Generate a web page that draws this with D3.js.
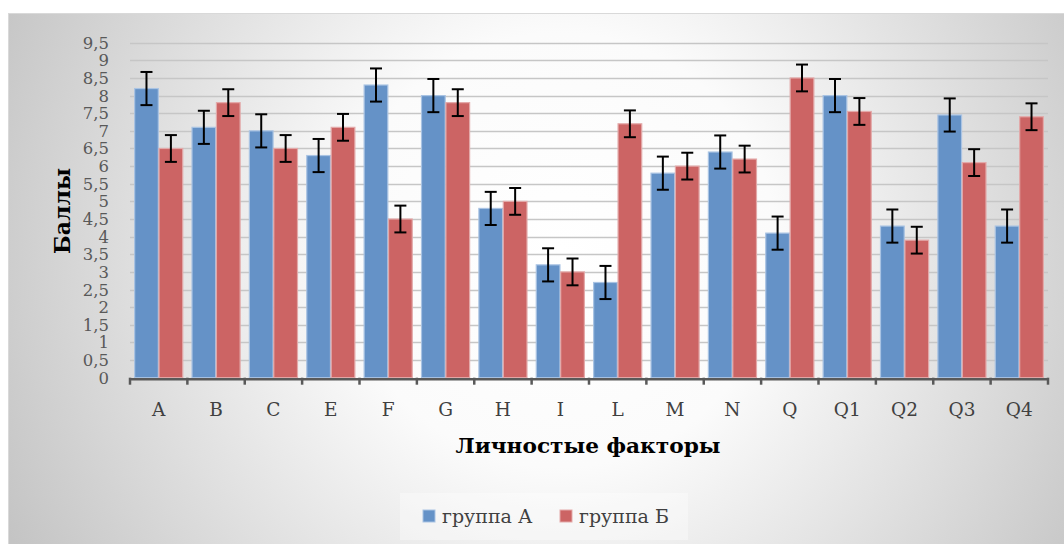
<!DOCTYPE html>
<html>
<head>
<meta charset="utf-8">
<script src="https://cdn.jsdelivr.net/npm/d3@7/dist/d3.min.js"></script>
<style>
  html, body { margin: 0; padding: 0; background: #ffffff; }
  svg { display: block; }
  .serif { font-family: "DejaVu Serif", "Liberation Serif", serif; }
</style>
</head>
<body>
<svg id="chart" width="1064" height="544"></svg>
<script>
// ── Data ─────────────────────────────────────────────────────────────────────
const factors   = ['A','B','C','E','F','G','H','I','L','M','N','Q','Q1','Q2','Q3','Q4'];
const groupA    = [8.2, 7.1, 7.0, 6.3, 8.3, 8.0, 4.8, 3.2, 2.7, 5.8, 6.4, 4.1, 8.0, 4.3, 7.45, 4.3];
const groupB    = [6.5, 7.8, 6.5, 7.1, 4.5, 7.8, 5.0, 3.0, 7.2, 6.0, 6.2, 8.5, 7.55, 3.9, 6.1, 7.4];
const errA      = [0.47, 0.47, 0.47, 0.47, 0.47, 0.47, 0.47, 0.47, 0.47, 0.47, 0.47, 0.47, 0.47, 0.47, 0.47, 0.47];
const errB      = [0.38, 0.38, 0.38, 0.38, 0.38, 0.38, 0.38, 0.38, 0.38, 0.38, 0.38, 0.38, 0.38, 0.38, 0.38, 0.38];
const seriesNames = ['группа А', 'группа Б'];
const yTicks    = [0,0.5,1,1.5,2,2.5,3,3.5,4,4.5,5,5.5,6,6.5,7,7.5,8,8.5,9,9.5];
const refLevel  = 5.56;

// ── Layout ───────────────────────────────────────────────────────────────────
const W = 1064, H = 544;
const plot = { left: 130, right: 1048, top: 42.7, bottom: 377.7 };
const COLORS = ['#6592c7', '#cc6464'];
const STROKES = ['#a9c3e3', '#e3a9a9'];

const svg = d3.select('#chart');
const defs = svg.append('defs');

const bg = defs.append('radialGradient')
  .attr('id', 'bgGrad').attr('gradientUnits', 'userSpaceOnUse')
  .attr('cx', 560).attr('cy', 250).attr('r', 620);
bg.append('stop').attr('offset', '0%').attr('stop-color', '#ffffff');
bg.append('stop').attr('offset', '35%').attr('stop-color', '#fbfbfb');
bg.append('stop').attr('offset', '100%').attr('stop-color', '#c4c4c4');

const sh = defs.append('filter').attr('id', 'lineShadow')
  .attr('x', '-5%').attr('y', '-200%').attr('width', '110%').attr('height', '500%');
sh.append('feDropShadow').attr('dx', 0).attr('dy', 3).attr('stdDeviation', 2.5)
  .attr('flood-color', '#000').attr('flood-opacity', 0.35);

// background panel
svg.append('rect').attr('x', 0).attr('y', 0).attr('width', W).attr('height', H).attr('fill', '#ffffff');
svg.append('rect').attr('x', 8.5).attr('y', 13.5).attr('width', W).attr('height', H)
  .attr('fill', 'url(#bgGrad)').attr('stroke', '#d9d9d9');

// ── Scales ───────────────────────────────────────────────────────────────────
const x = d3.scaleBand().domain(factors).range([plot.left, plot.right]).paddingInner(0).paddingOuter(0);
const y = d3.scaleLinear().domain([0, 9.5]).range([plot.bottom, plot.top]);
const sub = d3.scaleBand().domain([0, 1]).range([0, x.bandwidth()]).paddingInner(0.03).paddingOuter(0.19);

// gridlines
svg.append('g').selectAll('line').data(yTicks.filter(t => t > 0)).join('line')
  .attr('x1', plot.left).attr('x2', plot.right)
  .attr('y1', d => Math.round(y(d)) + 0.5).attr('y2', d => Math.round(y(d)) + 0.5)
  .attr('stroke', '#c6c6c6').attr('stroke-width', 1.5);

// y tick labels
svg.append('g').attr('class', 'serif').selectAll('text').data(yTicks).join('text')
  .attr('x', 109).attr('y', d => y(d) + 6)
  .attr('text-anchor', 'end').attr('font-size', 16.5).attr('fill', '#595959')
  .text(d => String(d).replace('.', ','));

// bars
const rows = factors.map((f, i) => ({ f, vals: [groupA[i], groupB[i]], errs: [errA[i], errB[i]] }));
const cat = svg.append('g').selectAll('g').data(rows).join('g')
  .attr('transform', d => `translate(${x(d.f)},0)`);

cat.selectAll('rect').data(d => d.vals.map((v, s) => ({ v, s }))).join('rect')
  .attr('x', d => sub(d.s)).attr('width', sub.bandwidth())
  .attr('y', d => y(d.v)).attr('height', d => y(0) - y(d.v))
  .attr('fill', d => COLORS[d.s]).attr('stroke', d => STROKES[d.s]).attr('stroke-width', 1.2);

// reference line
svg.append('line')
  .attr('x1', plot.left + 4).attr('x2', plot.right)
  .attr('y1', y(refLevel)).attr('y2', y(refLevel))
  .attr('stroke', '#c0504d').attr('stroke-width', 8)
  .attr('filter', 'url(#lineShadow)');

// error bars
const eb = cat.selectAll('g.err').data(d => d.vals.map((v, s) => ({ v, s, e: d.errs[s] }))).join('g')
  .attr('class', 'err')
  .attr('transform', d => `translate(${sub(d.s) + sub.bandwidth() / 2},0)`);
eb.append('line').attr('x1', 0).attr('x2', 0)
  .attr('y1', d => y(d.v + d.e)).attr('y2', d => y(d.v - d.e))
  .attr('stroke', '#000').attr('stroke-width', 2);
eb.selectAll('line.cap').data(d => [d.v + d.e, d.v - d.e]).join('line').attr('class', 'cap')
  .attr('x1', -6).attr('x2', 6).attr('y1', d => y(d)).attr('y2', d => y(d))
  .attr('stroke', '#000').attr('stroke-width', 2);

// x axis
const xAxis = svg.append('g').attr('transform', `translate(0,${plot.bottom + 1})`)
  .call(d3.axisBottom(x).tickSize(0).tickFormat(''));
xAxis.select('.domain').attr('stroke', '#595959').attr('stroke-width', 2.5);
svg.append('g').selectAll('line')
  .data(factors.map(f => x(f)).concat([plot.right])).join('line')
  .attr('x1', d => d).attr('x2', d => d)
  .attr('y1', plot.bottom).attr('y2', plot.bottom + 7)
  .attr('stroke', '#595959').attr('stroke-width', 2.5);

svg.append('g').attr('class', 'serif').selectAll('text').data(factors).join('text')
  .attr('x', d => x(d) + x.bandwidth() / 2).attr('y', 416)
  .attr('text-anchor', 'middle').attr('font-size', 18.5).attr('fill', '#404040')
  .text(d => d);

// axis titles
svg.append('text').attr('class', 'serif')
  .attr('x', 588).attr('y', 453).attr('text-anchor', 'middle')
  .attr('font-size', 21).attr('font-weight', 'bold').attr('fill', '#000')
  .attr('textLength', 265).attr('lengthAdjust', 'spacingAndGlyphs')
  .text('Личностые факторы');

svg.append('text').attr('class', 'serif')
  .attr('transform', 'translate(70,211) rotate(-90)').attr('text-anchor', 'middle')
  .attr('font-size', 22).attr('font-weight', 'bold').attr('fill', '#000')
  .text('Баллы');

// legend
const lg = svg.append('g');
lg.append('rect').attr('x', 400).attr('y', 493).attr('width', 288).attr('height', 47)
  .attr('fill', '#ffffff').attr('fill-opacity', 0.35);
const items = lg.selectAll('g').data(seriesNames).join('g')
  .attr('transform', (d, i) => `translate(${i === 0 ? 423 : 560},0)`);
items.append('rect').attr('x', 0).attr('y', 510).attr('width', 12).attr('height', 12)
  .attr('fill', (d, i) => COLORS[i]).attr('stroke', (d, i) => STROKES[i]);
items.append('text').attr('class', 'serif').attr('x', 19).attr('y', 523)
  .attr('font-size', 19).attr('fill', '#404040').text(d => d);
</script>
</body>
</html>
